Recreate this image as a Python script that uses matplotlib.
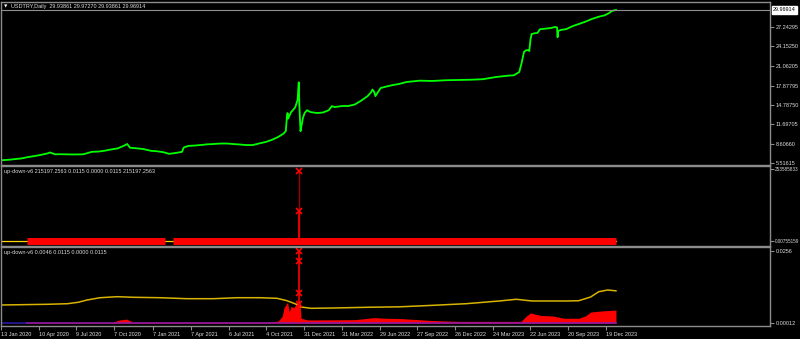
import numpy as np
import matplotlib
matplotlib.use("Agg")
import matplotlib.pyplot as plt
from matplotlib.transforms import blended_transform_factory

START = "2020-01-13"

# USDTRY daily, values
price_dates = [
    "2020-01-13", "2020-02-03", "2020-03-02", "2020-03-16", "2020-04-01", "2020-04-15",
    "2020-05-01", "2020-05-07", "2020-05-20", "2020-06-01", "2020-07-01", "2020-07-24",
    "2020-08-03", "2020-08-14", "2020-09-01", "2020-09-15", "2020-10-01", "2020-10-15",
    "2020-10-30", "2020-11-06", "2020-11-13", "2020-12-01", "2020-12-15", "2021-01-04",
    "2021-01-15", "2021-02-01", "2021-02-15", "2021-03-01", "2021-03-17", "2021-03-22",
    "2021-04-01", "2021-04-15", "2021-05-03", "2021-05-17", "2021-06-01", "2021-06-15",
    "2021-07-01", "2021-07-15", "2021-08-02", "2021-08-16", "2021-09-01", "2021-09-15",
    "2021-10-01", "2021-10-15", "2021-11-01", "2021-11-12", "2021-11-18", "2021-11-22",
    "2021-11-23", "2021-11-24", "2021-12-01", "2021-12-06", "2021-12-10", "2021-12-16",
    "2021-12-20", "2021-12-21", "2021-12-23", "2021-12-27", "2021-12-29", "2022-01-03",
    "2022-01-07", "2022-01-17", "2022-02-01", "2022-02-15", "2022-03-01", "2022-03-08",
    "2022-03-15", "2022-04-01", "2022-04-15", "2022-05-02", "2022-05-16", "2022-06-01",
    "2022-06-09", "2022-06-13", "2022-06-16", "2022-06-20", "2022-07-01", "2022-07-15",
    "2022-08-01", "2022-08-15", "2022-09-01", "2022-09-15", "2022-10-03", "2022-11-01",
    "2022-12-01", "2023-01-02", "2023-02-01", "2023-03-01", "2023-04-03", "2023-05-01",
    "2023-05-15", "2023-05-26", "2023-06-01", "2023-06-07", "2023-06-12", "2023-06-16",
    "2023-06-20", "2023-06-22", "2023-06-26", "2023-07-03", "2023-07-10", "2023-07-14",
    "2023-08-01", "2023-08-10", "2023-08-18", "2023-08-24", "2023-08-25", "2023-08-28",
    "2023-09-01", "2023-09-15", "2023-10-02", "2023-10-16", "2023-11-01", "2023-11-15",
    "2023-12-01", "2023-12-15", "2023-12-26", "2024-01-02", "2024-01-11",
]
price_close = [
    5.95, 6.05, 6.25, 6.45, 6.63, 6.80,
    7.05, 7.20, 6.90, 6.92, 6.88, 6.90,
    7.05, 7.30, 7.35, 7.48, 7.70, 7.85,
    8.30, 8.55, 7.95, 7.85, 7.75, 7.45,
    7.40, 7.25, 6.98, 7.10, 7.30, 8.00,
    8.25, 8.30, 8.40, 8.50, 8.55, 8.62,
    8.63, 8.55, 8.47, 8.39, 8.38, 8.62,
    8.87, 9.20, 9.67, 10.20, 10.60, 12.90,
    13.50, 12.60, 13.65, 13.95, 14.40, 15.60,
    18.40, 14.80, 10.60, 11.60, 12.70, 13.50,
    13.95, 13.65, 13.50, 13.58, 13.95, 14.60,
    14.45, 14.62, 14.62, 14.86, 15.42, 16.22,
    16.86, 17.26, 16.86, 16.20, 17.50, 17.74,
    17.98, 18.14, 18.46, 18.55, 18.67, 18.62,
    18.73, 18.78, 18.82, 18.90, 19.26, 19.47,
    19.53, 20.05, 21.50, 23.25, 23.50, 23.57,
    23.40, 25.20, 26.12, 26.24, 26.30, 26.88,
    27.01, 27.08, 27.24, 27.20, 25.60, 26.60,
    26.76, 26.92, 27.40, 27.72, 28.12, 28.52,
    28.89, 29.11, 29.45, 29.80, 29.97,
]
last_price = 29.96914
price_ticks = [5.51615, 8.60660, 11.69705, 14.78750, 17.87795, 21.06205, 24.15250, 27.24295]

# up-down-v6, first window
ud_level = 0.0115
ud_red_runs = [("2020-03-13", "2021-02-04"), ("2021-02-24", "2024-01-11")]
ud_spike_date = "2021-12-21"
ud_spike_hi = 246500000.0
ud_spike_lo = 105700000.0
ud_ticks = [0.00755159, 253585833.0]
ud_ticklabels = ["0.00755159", "253585833"]

# up-down-v6, second window
gold_dates = [
    "2020-01-13", "2020-05-01", "2020-06-18", "2020-07-14", "2020-08-04", "2020-09-03",
    "2020-10-14", "2020-11-20", "2021-01-25", "2021-03-29", "2021-05-31", "2021-07-26",
    "2021-09-17", "2021-10-28", "2021-11-22", "2021-12-14", "2021-12-24", "2022-01-18",
    "2022-03-11", "2022-05-31", "2022-08-17", "2022-11-03", "2023-01-20", "2023-04-10",
    "2023-05-19", "2023-06-27", "2023-09-15", "2023-10-16", "2023-11-13", "2023-12-01",
    "2023-12-22", "2024-01-11",
]
gold_vals = [
    0.00649, 0.00674, 0.00695, 0.00745, 0.00826, 0.00907,
    0.00943, 0.00922, 0.00907, 0.00872, 0.00872, 0.00907,
    0.00907, 0.00886, 0.00801, 0.00674, 0.00578, 0.00532,
    0.00543, 0.00568, 0.00585, 0.00638, 0.00695, 0.00791,
    0.00851, 0.00791, 0.00791, 0.00801, 0.00932, 0.01120,
    0.01180, 0.01150,
]
hist_dates = [
    "2020-01-13", "2020-10-01", "2020-10-20", "2020-11-05", "2020-11-20", "2021-10-01",
    "2021-11-01", "2021-11-10", "2021-11-15", "2021-11-23", "2021-11-26", "2021-12-01",
    "2021-12-08", "2021-12-15", "2021-12-22", "2021-12-24", "2022-01-10", "2022-05-01",
    "2022-06-15", "2022-07-15", "2022-08-17", "2022-11-01", "2023-01-02", "2023-05-31",
    "2023-06-12", "2023-06-22", "2023-07-03", "2023-07-17", "2023-08-15", "2023-09-08",
    "2023-10-16", "2023-11-01", "2023-11-13", "2023-12-01", "2023-12-20", "2024-01-11",
]
hist_vals = [
    0.0002, 0.0003, 0.0012, 0.0015, 0.0004, 0.0004,
    0.0008, 0.0025, 0.0055, 0.0075, 0.0040, 0.0060,
    0.0055, 0.0075, 0.0075, 0.0018, 0.0012, 0.0013,
    0.0020, 0.0018, 0.0017, 0.0010, 0.0007, 0.0007,
    0.0024, 0.0037, 0.0033, 0.0028, 0.0026, 0.0018,
    0.0018, 0.0027, 0.0040, 0.0043, 0.0045, 0.0047,
]
base_level = 0.0002
base_switch = "2020-03-13"
spike3_date = "2021-12-21"
spike3_marks = [0.0256, 0.0221, 0.0109, 0.0070]
ud3_ticks = [0.00012, 0.0256]
ud3_ticklabels = ["0.00012", "0.0256"]

tick_dates = [
    "2020-01-13", "2020-04-10", "2020-07-09", "2020-10-07", "2021-01-07", "2021-04-07",
    "2021-07-06", "2021-10-04", "2021-12-31", "2022-03-31", "2022-06-29", "2022-09-27",
    "2022-12-26", "2023-03-24", "2023-06-22", "2023-09-20", "2023-12-19",
]
tick_labels = [
    "13 Jan 2020", "10 Apr 2020", "9 Jul 2020", "7 Oct 2020", "7 Jan 2021", "7 Apr 2021",
    "6 Jul 2021", "4 Oct 2021", "31 Dec 2021", "31 Mar 2022", "29 Jun 2022", "27 Sep 2022",
    "26 Dec 2022", "24 Mar 2023", "22 Jun 2023", "20 Sep 2023", "19 Dec 2023",
]

title_main = "USDTRY,Daily  29.93861 29.97270 29.93861 29.96914"
title_ud2 = "up-down-v6 215197.2563 0.0115 0.0000 0.0115 215197.2563"
title_ud3 = "up-down-v6 0.0046 0.0115 0.0000 0.0115"


def bars(dates):
    # MT4 daily chart: one bar per weekday
    return np.busday_count(START, np.array(dates, dtype="datetime64[D]"))


plt.rcParams["font.family"] = ["Liberation Sans", "DejaVu Sans"]
TXT = "#dcdcdc"
FRAME = "#8c8c8c"
FS = 4.0

W, H = 800, 339
fig = plt.figure(figsize=(W / 100, H / 100), dpi=100, facecolor="black")


def panel(top, bottom, fs=FS, pad=1.2):
    ax = fig.add_axes([1 / W, 1 - bottom / H, 769 / W, (bottom - top) / H])
    ax.set_facecolor("black")
    for s in ax.spines.values():
        s.set_color(FRAME)
        s.set_linewidth(1)
    ax.set_xlim(0, 769 / 0.5896)
    ax.yaxis.tick_right()
    ax.tick_params(axis="y", length=3, width=0.8, color=FRAME, labelcolor=TXT,
                   labelsize=fs, pad=pad)
    ax.tick_params(axis="x", bottom=False, labelbottom=False)
    return ax


ax1 = panel(2, 165)
ax2 = panel(166, 246, fs=3.3, pad=0.6)
ax3 = panel(247, 326)

# main price window
ax1.plot(bars(price_dates), price_close, color="#00ff00", lw=1.3)
ax1.axhline(last_price, color="#909090", lw=0.8)
ax1.set_ylim(5.196, 31.237)
ax1.set_yticks(price_ticks)
ax1.set_yticklabels(["%.5f" % v for v in price_ticks])
tr = blended_transform_factory(ax1.transAxes, ax1.transData)
ax1.text(1.004, last_price, "%.5f" % last_price, transform=tr, fontsize=FS,
         color="black", va="center", ha="left",
         bbox=dict(boxstyle="square,pad=0.2", fc="white", ec="white"))
ax1.text(0.004, 0.975, "\u25bc", transform=ax1.transAxes, fontsize=3.2, color="white",
         va="center", ha="left", family="DejaVu Sans")
ax1.text(0.0135, 0.975, title_main, transform=ax1.transAxes, fontsize=FS, color=TXT,
         va="center", ha="left")

# first indicator window
all_x = bars([START, price_dates[-1]])
ax2.plot(all_x, [ud_level, ud_level], color="gold", lw=0.9)
for a, b in ud_red_runs:
    ax2.plot(bars([a, b]), [ud_level, ud_level], color="#ff0000", lw=5,
             solid_capstyle="butt")
sx = bars([ud_spike_date])[0]
ax2.vlines(sx, ud_level, ud_spike_hi, color="#a00000", lw=1)
ax2.vlines(sx, ud_level, ud_spike_lo, color="#ff0000", lw=1.2)
ax2.plot([sx, sx], [ud_spike_hi, ud_spike_lo], ls="none", marker="x", ms=4,
         mew=1.2, color="#ff0000")
R = ud_ticks[1]
ax2.set_ylim(-5 * R / 72, R + 3 * R / 72)
ax2.set_yticks(ud_ticks)
ax2.set_yticklabels(ud_ticklabels)
ax2.text(0.004, 0.93, title_ud2, transform=ax2.transAxes, fontsize=FS, color=TXT,
         va="center", ha="left")

# second indicator window
bx = bars([START, base_switch, price_dates[-1]])
ax3.plot(bx[:2], [base_level, base_level], color="#1a1aa0", lw=1.2)
ax3.plot(bx[1:], [base_level, base_level], color="#8a1aa8", lw=1.2)
hx = bars(hist_dates)
ax3.fill_between(hx, 0, hist_vals, color="#ff0000", lw=0)
ax3.plot(bars(gold_dates), gold_vals, color="#d8b400", lw=1.1)
s3 = bars([spike3_date])[0]
ax3.vlines(s3, 0, spike3_marks[0], color="#ff0000", lw=1.2)
ax3.plot([s3] * len(spike3_marks), spike3_marks, ls="none", marker="x", ms=4,
         mew=1.2, color="#ff0000")
ax3.set_ylim(0.00012 - 3 * 0.00035389, 0.00012 + 76 * 0.00035389)
ax3.set_yticks(ud3_ticks)
ax3.set_yticklabels(ud3_ticklabels)
ax3.text(0.004, 0.93, title_ud3, transform=ax3.transAxes, fontsize=FS, color=TXT,
         va="center", ha="left")

ax3.set_xticks(bars(tick_dates))
ax3.set_xticklabels(tick_labels, ha="left")
ax3.tick_params(axis="x", bottom=True, labelbottom=True, length=3, width=0.8,
                color=FRAME, labelcolor=TXT, labelsize=FS, pad=1)

fig.savefig("out.png", dpi=100, facecolor="black")
